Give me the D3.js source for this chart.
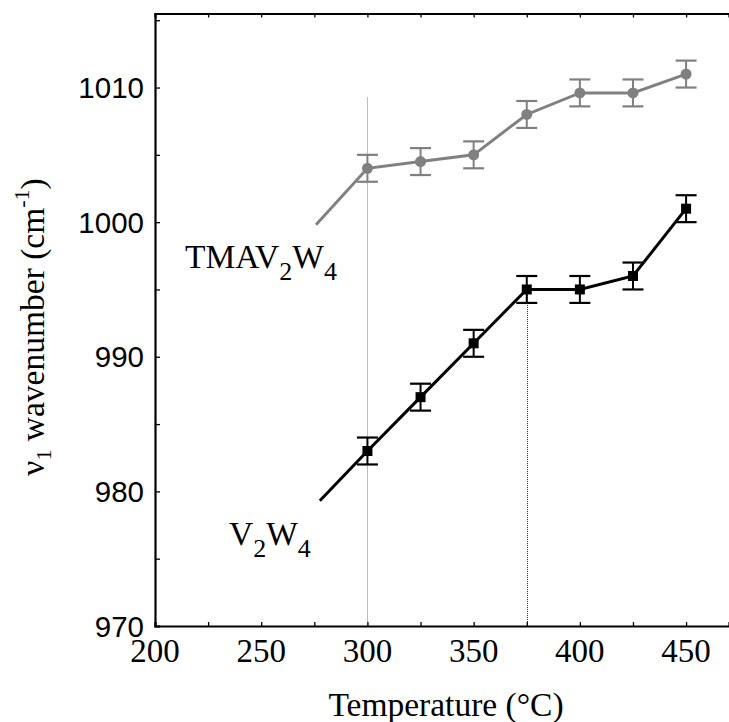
<!DOCTYPE html>
<html>
<head>
<meta charset="utf-8">
<script src="https://cdn.jsdelivr.net/npm/d3@7"></script>
<style>
  html, body { margin: 0; padding: 0; background: #fff; }
  svg { display: block; }
  .serif { font-family: "Liberation Serif", "Times New Roman", Times, serif; }
  .sans { font-family: "Liberation Sans", Arial, Helvetica, sans-serif; }
</style>
</head>
<body>
<script>
// ---- data ----
const temperatures = [300, 325, 350, 375, 400, 425, 450];
const tmaV2W4 = [1004, 1004.5, 1005, 1008, 1009.6, 1009.6, 1011];
const v2w4 = [983, 987, 991, 995, 995, 996, 1001];
const errTma = [1, 1, 1, 1, 1, 1, 1];
const errV2W4 = [1, 1, 1, 1, 1, 1, 1];
// unmarked lead-in start of each line (temperature, wavenumber)
const tmaLeadIn = [275.8, 999.8];
const v2w4LeadIn = [277.6, 979.3];
const xTickValues = [200, 250, 300, 350, 400, 450];
const xMinorTicks = [200, 225, 250, 275, 300, 325, 350, 375, 400, 425, 450];
const yTickValues = [970, 980, 990, 1000, 1010];
const yMinorTicks = [970, 975, 980, 985, 990, 995, 1000, 1005, 1010, 1015];
const guide300 = [300, 1009.3];
const guide375 = [375, 995];

(function () {
const W = 729, H = 722;
const svg = d3.select("body").append("svg").attr("width", W).attr("height", H);

const x = d3.scaleLinear().domain([200, 470.2]).range([155, 729]);
const y = d3.scaleLinear().domain([970, 1015.5]).range([626, 13.5]);

// guide lines
svg.append("line")
  .attr("x1", Math.round(x(guide300[0])) + 0.5).attr("x2", Math.round(x(guide300[0])) + 0.5)
  .attr("y1", y(guide300[1])).attr("y2", y(970))
  .attr("stroke", "#bdbdbd").attr("stroke-width", 1);
svg.append("line")
  .attr("x1", Math.round(x(guide375[0])) + 0.5).attr("x2", Math.round(x(guide375[0])) + 0.5)
  .attr("y1", y(guide375[1])).attr("y2", y(970))
  .attr("stroke", "#333").attr("stroke-width", 1)
  .attr("stroke-dasharray", "1,1").attr("shape-rendering", "crispEdges");

// axes
const axisG = svg.append("g");
const axBottom = axisG.append("g").attr("transform", `translate(0,${y(970)})`)
  .call(d3.axisBottom(x).tickValues(xMinorTicks).tickSize(-4).tickFormat(""));
const axTop = axisG.append("g").attr("transform", `translate(0,${y(1015.5)})`)
  .call(d3.axisTop(x).tickValues(xMinorTicks).tickSize(-4).tickFormat(""));
const axLeft = axisG.append("g").attr("transform", `translate(${x(200)},0)`)
  .call(d3.axisLeft(y).tickValues(yMinorTicks).tickSize(-5).tickFormat(""));
[axBottom, axTop, axLeft].forEach(g => {
  g.select(".domain").attr("stroke", "#000").attr("stroke-width", 2.2);
  g.selectAll(".tick line").attr("stroke", "#000").attr("stroke-width", 1.3);
});

// tick labels
svg.append("g").attr("class", "serif").selectAll("text").data(xTickValues).join("text")
  .attr("class", "serif")
  .attr("x", d => x(d)).attr("y", 662)
  .attr("text-anchor", "middle")
  .attr("font-size", 33)
  .text(d => d);
svg.append("g").attr("class", "sans").selectAll("text").data(yTickValues).join("text")
  .attr("class", "sans")
  .attr("x", 144).attr("y", d => y(d)).attr("dy", "0.36em")
  .attr("text-anchor", "end")
  .attr("font-size", 29.5)
  .text(d => d);

// axis titles
svg.append("text").attr("class", "serif")
  .attr("x", 446).attr("y", 716)
  .attr("text-anchor", "middle")
  .attr("font-size", 33.5)
  .text("Temperature (°C)");

const yt = svg.append("text").attr("class", "serif")
  .attr("transform", "translate(44,327) rotate(-90)")
  .attr("text-anchor", "middle")
  .attr("font-size", 33.5);
yt.append("tspan").text("ν");
yt.append("tspan").attr("font-size", 22).attr("dy", 7).text("1");
yt.append("tspan").attr("dy", -7).text(" wavenumber (cm");
yt.append("tspan").attr("font-size", 22).attr("dy", -15).text("-1");
yt.append("tspan").attr("dy", 15).text(")");

// series
function drawSeries(vals, errs, leadIn, color, marker) {
  const pts = temperatures.map((t, i) => ({t, v: vals[i], e: errs[i]}));
  const linePts = [{t: leadIn[0], v: leadIn[1]}].concat(pts);
  const g = svg.append("g");
  g.append("path")
    .attr("d", d3.line().x(d => x(d.t)).y(d => y(d.v))(linePts))
    .attr("fill", "none").attr("stroke", color).attr("stroke-width", 3);
  const eb = g.append("g").selectAll("g").data(pts).join("g");
  eb.append("line")
    .attr("x1", d => x(d.t)).attr("x2", d => x(d.t))
    .attr("y1", d => y(d.v - d.e)).attr("y2", d => y(d.v + d.e))
    .attr("stroke", color).attr("stroke-width", 2);
  [-1, 1].forEach(s => {
    eb.append("line")
      .attr("x1", d => x(d.t) - 10.5).attr("x2", d => x(d.t) + 10.5)
      .attr("y1", d => y(d.v + s * d.e)).attr("y2", d => y(d.v + s * d.e))
      .attr("stroke", color).attr("stroke-width", 2.2);
  });
  if (marker === "circle") {
    g.append("g").selectAll("circle").data(pts).join("circle")
      .attr("cx", d => x(d.t)).attr("cy", d => y(d.v)).attr("r", 5.5)
      .attr("fill", color);
  } else {
    g.append("g").selectAll("rect").data(pts).join("rect")
      .attr("x", d => x(d.t) - 5).attr("y", d => y(d.v) - 5)
      .attr("width", 10).attr("height", 10).attr("fill", color);
  }
}
drawSeries(tmaV2W4, errTma, tmaLeadIn, "#808080", "circle");
drawSeries(v2w4, errV2W4, v2w4LeadIn, "#000", "square");

// series labels
function seriesLabel(xp, yp, parts) {
  const t = svg.append("text").attr("class", "serif").attr("x", xp).attr("y", yp)
    .attr("font-size", 33.5).attr("fill", "#000");
  parts.forEach(p => {
    if (p.sub) {
      t.append("tspan").attr("font-size", 26).attr("dy", 12).text(p.s);
    } else {
      t.append("tspan").attr("dy", p.back ? -12 : 0).text(p.s);
    }
  });
}
seriesLabel(185, 268, [{s: "TMAV"}, {s: "2", sub: true}, {s: "W", back: true}, {s: "4", sub: true}]);
seriesLabel(229, 545, [{s: "V"}, {s: "2", sub: true}, {s: "W", back: true}, {s: "4", sub: true}]);
})();
</script>
</body>
</html>
